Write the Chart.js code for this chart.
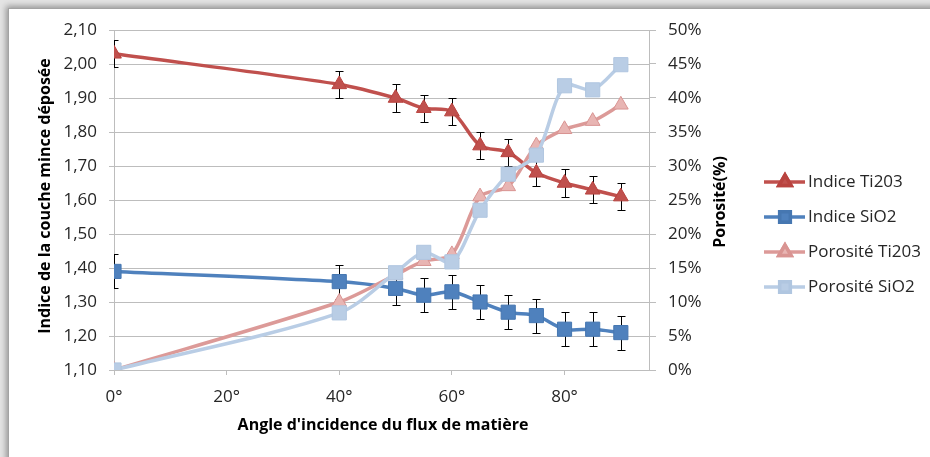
<!DOCTYPE html>
<html>
<head>
<meta charset="utf-8">
<script src="https://cdn.jsdelivr.net/npm/chart.js@4.4.1/dist/chart.umd.min.js"></script>
<style>
  html, body { margin: 0; padding: 0; background: #e4e4e4; overflow: hidden; }
  #frame {
    position: absolute; left: 8px; top: 8px; width: 1000px; height: 1000px;
    background: #fff; border-top: 1px solid #a3a3a3; border-left: 1px solid #a3a3a3;
    box-shadow: -2px -2px 6px rgba(0,0,0,0.35);
  }
  #wrap { position: absolute; left: 0; top: 0; width: 930px; height: 457px; }
</style>
</head>
<body>
<div id="frame"></div>
<div id="wrap"><canvas id="chart"></canvas></div>
<script>
// ---- data ----
const angles   = [0, 40, 50, 55, 60, 65, 70, 75, 80, 85, 90];
const indiceTi = [2.03, 1.94, 1.90, 1.87, 1.86, 1.76, 1.74, 1.68, 1.65, 1.63, 1.61];
const indiceSi = [1.39, 1.36, 1.34, 1.32, 1.33, 1.30, 1.27, 1.26, 1.22, 1.22, 1.21];
const errTi    = [0.04, 0.04, 0.04, 0.04, 0.04, 0.04, 0.04, 0.04, 0.04, 0.04, 0.04];
const errSi    = [0.05, 0.05, 0.05, 0.05, 0.05, 0.05, 0.05, 0.05, 0.05, 0.05, 0.05];
const poroTi   = [0, 10, 14, 16, 17, 25.5, 27, 33, 35.4, 36.6, 39];   // %
const poroSi   = [0, 8.4, 14.3, 17.3, 15.9, 23.5, 28.8, 31.6, 41.8, 41.2, 44.9]; // %

const xTicks     = [0, 20, 40, 60, 80];
const leftTicks  = [1.1, 1.2, 1.3, 1.4, 1.5, 1.6, 1.7, 1.8, 1.9, 2.0, 2.1];
const rightTicks = [0, 5, 10, 15, 20, 25, 30, 35, 40, 45, 50];

const seriesNames = ["Indice Ti203", "Indice SiO2", "Porosité Ti203", "Porosité SiO2"];

const FONT = "'Open Sans', sans-serif";
const GRID = "#bdbdbd";
const TXT = "#262626";

const pts = (ys) => angles.map((a, i) => ({ x: a, y: ys[i] }));

// error bars, drawn just before their series so markers sit on top
const errorBars = {
  id: "errorBars",
  beforeDatasetDraw(chart, args) {
    const ds = chart.data.datasets[args.index];
    if (!ds.errors) return;
    const { ctx, chartArea } = chart;
    const xs = chart.scales.x, ys = chart.scales[ds.yAxisID];
    ctx.save();
    ctx.beginPath();
    ctx.rect(chartArea.left, chartArea.top, chartArea.right - chartArea.left, chartArea.bottom - chartArea.top);
    ctx.clip();
    ctx.strokeStyle = "#000";
    ctx.lineWidth = 1;
    ds.data.forEach((p, i) => {
      const x = Math.round(xs.getPixelForValue(p.x)) + 0.5;
      const y1 = Math.round(ys.getPixelForValue(p.y + ds.errors[i])) + 0.5;
      const y2 = Math.round(ys.getPixelForValue(p.y - ds.errors[i])) + 0.5;
      ctx.beginPath();
      ctx.moveTo(x, y1); ctx.lineTo(x, y2);
      ctx.moveTo(x - 4, y1); ctx.lineTo(x + 4, y1);
      ctx.moveTo(x - 4, y2); ctx.lineTo(x + 4, y2);
      ctx.stroke();
    });
    ctx.restore();
  }
};

// axis titles + Excel-like legend
const decorations = {
  id: "decorations",
  afterDraw(chart) {
    const { ctx } = chart;
    ctx.save();
    ctx.fillStyle = "#000";
    ctx.font = "bold 16px " + FONT;
    ctx.textAlign = "center";
    ctx.textBaseline = "middle";
    ctx.fillText("Angle d'incidence du flux de matière", 383, 425);

    ctx.save();
    ctx.translate(45, 196);
    ctx.rotate(-Math.PI / 2);
    ctx.fillText("Indice de la couche mince déposée", 0, 0);
    ctx.restore();

    ctx.save();
    ctx.translate(720, 202);
    ctx.rotate(-Math.PI / 2);
    ctx.fillText("Porosité(%)", 0, 0);
    ctx.restore();

    // legend
    const rows = [182, 217, 252, 287];
    chart.data.datasets.forEach((ds, i) => {
      const y = rows[i];
      ctx.strokeStyle = ds.borderColor;
      ctx.lineWidth = 3.5;
      ctx.beginPath();
      ctx.moveTo(764, y); ctx.lineTo(805, y);
      ctx.stroke();
      Chart.helpers.drawPoint(ctx, {
        pointStyle: ds.pointStyle, radius: ds.pointStyle === "rect" ? 7.5 : 7,
        borderWidth: 1
      }, 785, y);
      ctx.fillStyle = ds.pointBackgroundColor;
      ctx.strokeStyle = ds.pointBorderColor;
      ctx.fill();
      ctx.stroke();
      ctx.fillStyle = TXT;
      ctx.font = "17px " + FONT;
      ctx.textAlign = "left";
      ctx.fillText(seriesNames[i], 808, y);
    });
    ctx.restore();
  }
};

const ctx = document.getElementById("chart").getContext("2d");

new Chart(ctx, {
  type: "line",
  data: {
    datasets: [
      {
        label: seriesNames[0], data: pts(indiceTi), errors: errTi, yAxisID: "y",
        borderColor: "#C0504D", borderWidth: 3.5,
        pointStyle: "triangle", pointRadius: 8.5,
        pointBackgroundColor: "#C0504D", pointBorderColor: "#B9433F", pointBorderWidth: 1,
        order: 3
      },
      {
        label: seriesNames[1], data: pts(indiceSi), errors: errSi, yAxisID: "y",
        borderColor: "#4F81BD", borderWidth: 3.5,
        pointStyle: "rect", pointRadius: 10,
        pointBackgroundColor: "#4F81BD", pointBorderColor: "#4677B1", pointBorderWidth: 1,
        order: 2
      },
      {
        label: seriesNames[2], data: pts(poroTi), yAxisID: "y2",
        borderColor: "#DC9A98", borderWidth: 3.5,
        pointStyle: "triangle", pointRadius: 8.5,
        pointBackgroundColor: "#E8B5B3", pointBorderColor: "#D99492", pointBorderWidth: 1,
        order: 1
      },
      {
        label: seriesNames[3], data: pts(poroSi), yAxisID: "y2",
        borderColor: "#B9CDE5", borderWidth: 3.5,
        pointStyle: "rect", pointRadius: 10,
        pointBackgroundColor: "#B9CDE5", pointBorderColor: "#B0C6E0", pointBorderWidth: 1,
        order: 0
      }
    ]
  },
  options: {
    responsive: true,
    maintainAspectRatio: false,
    animation: false,
    layout: { padding: { top: 30, left: 0, right: 0, bottom: 0 } },
    elements: { line: { tension: 0.3 } },
    plugins: { legend: { display: false }, tooltip: { enabled: false } },
    scales: {
      x: {
        type: "linear", min: 0, max: 95,
        afterBuildTicks: (s) => { s.ticks = xTicks.map(v => ({ value: v })); },
        afterFit: (s) => { s.height = 87; },
        ticks: {
          color: TXT, font: { family: FONT, size: 17 }, padding: 12, maxRotation: 0,
          callback: (v) => v + "°"
        },
        grid: { drawOnChartArea: false, color: GRID, tickLength: 5 },
        border: { color: GRID }
      },
      y: {
        position: "left", min: 1.1, max: 2.1,
        afterBuildTicks: (s) => { s.ticks = leftTicks.map(v => ({ value: v })); },
        afterFit: (s) => { s.width = 114; },
        ticks: {
          color: TXT, font: { family: FONT, size: 17 }, padding: 12,
          callback: (v) => v.toFixed(2).replace(".", ",")
        },
        grid: { color: GRID, tickLength: 5 },
        border: { color: GRID }
      },
      y2: {
        position: "right", min: 0, max: 50,
        afterBuildTicks: (s) => { s.ticks = rightTicks.map(v => ({ value: v })); },
        afterFit: (s) => { s.width = 281; },
        ticks: {
          color: TXT, font: { family: FONT, size: 17 }, padding: 12,
          callback: (v) => v + "%"
        },
        grid: { drawOnChartArea: false, color: GRID, tickLength: 7 },
        border: { color: GRID }
      }
    }
  },
  plugins: [errorBars, decorations]
});
</script>
</body>
</html>
